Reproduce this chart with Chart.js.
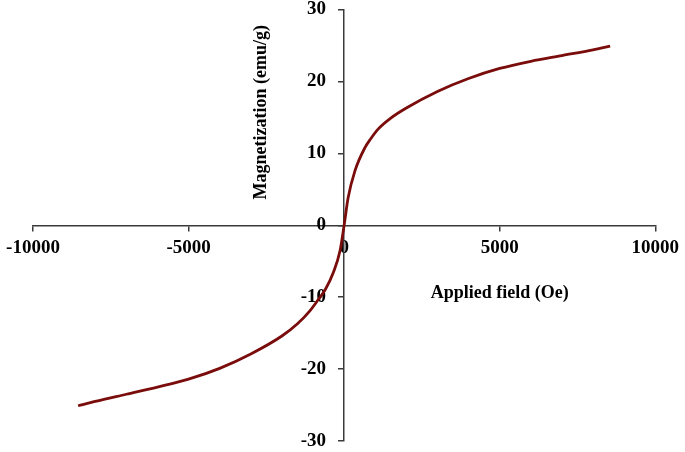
<!DOCTYPE html>
<html>
<head>
<meta charset="utf-8">
<script src="https://cdn.jsdelivr.net/npm/chart.js@4/dist/chart.umd.min.js"></script>
<style>
  html, body { margin: 0; padding: 0; background: #ffffff; }
  #wrap { width: 685px; height: 452px; position: relative; }
</style>
</head>
<body>
<div id="wrap"><canvas id="c" width="685" height="452"></canvas></div>
<script>
// Applied field (Oe)
const fieldValues = [-8550, -8000, -7000, -6000, -5000, -4000, -3000, -2000, -1500, -1100, -840, -600, -350, -130, 0,
                     130, 350, 670, 850, 1100, 1500, 2000, 3000, 4000, 5000, 6000, 7000, 8000, 8550];
// Magnetization (emu/g)
const magnetization = [-25.1, -24.5, -23.5, -22.5, -21.4, -19.9, -17.9, -15.4, -13.7, -11.9, -10.4, -8.9, -6.6, -3.5, 0,
                       3.85, 7.6, 10.8, 12.0, 13.4, 14.9, 16.3, 18.6, 20.4, 21.8, 22.8, 23.6, 24.4, 24.9];
const xTicks = [-10000, -5000, 0, 5000, 10000];
const yTicks = [-30, -20, -10, 0, 10, 20, 30];
const xTitle = 'Applied field (Oe)';
const yTitle = 'Magnetization (emu/g)';

const points = fieldValues.map((v, i) => ({ x: v, y: magnetization[i] }));
const tickFont = { family: '"Liberation Serif", "Times New Roman", serif', size: 19, weight: 'bold' };
const axisColor = '#3a3a3a';

const axisTitles = {
  id: 'axisTitles',
  afterDraw(chart) {
    const { ctx, scales: { x, y } } = chart;
    ctx.save();
    ctx.fillStyle = '#000';
    ctx.font = 'bold 18px "Liberation Serif", "Times New Roman", serif';
    ctx.textAlign = 'center';
    ctx.textBaseline = 'middle';
    ctx.fillText(xTitle, x.getPixelForValue(5000), y.getPixelForValue(-9.4));
    ctx.translate(x.getPixelForValue(-2650), y.getPixelForValue(15.7));
    ctx.rotate(-Math.PI / 2);
    ctx.fillText(yTitle, 0, 0);
    ctx.restore();
  }
};

new Chart(document.getElementById('c'), {
  type: 'scatter',
  data: {
    datasets: [{
      data: points,
      showLine: true,
      borderColor: '#7a0c0c',
      borderWidth: 2.8,
      pointRadius: 0,
      cubicInterpolationMode: 'monotone',
      fill: false
    }]
  },
  options: {
    responsive: false,
    animation: false,
    layout: { padding: { left: 33, right: 29, top: 9.5, bottom: 11 } },
    plugins: { legend: { display: false }, tooltip: { enabled: false } },
    scales: {
      x: {
        type: 'linear',
        min: -10000, max: 10000,
        position: { y: 0 },
        afterBuildTicks(s) { s.ticks = xTicks.map(v => ({ value: v })); },
        ticks: { font: tickFont, color: '#000', padding: 6, maxRotation: 0, autoSkip: false,
                 callback: v => String(v) },
        grid: { drawOnChartArea: false, drawTicks: true, tickLength: 5, color: axisColor, lineWidth: 1.5 },
        border: { display: true, color: axisColor, width: 1.5 }
      },
      y: {
        type: 'linear',
        min: -30, max: 30,
        position: { x: 0 },
        afterBuildTicks(s) { s.ticks = yTicks.map(v => ({ value: v })); },
        afterFit(s) { s.paddingTop = 0; s.paddingBottom = 0; },
        ticks: { font: tickFont, color: '#000', autoSkip: false,
                 callback: v => String(v) + '   \u2009' },
        grid: { drawOnChartArea: false, drawTicks: true, tickLength: 5, color: axisColor, lineWidth: 1.5 },
        border: { display: true, color: axisColor, width: 1.5 }
      }
    }
  },
  plugins: [axisTitles]
});
</script>
</body>
</html>
